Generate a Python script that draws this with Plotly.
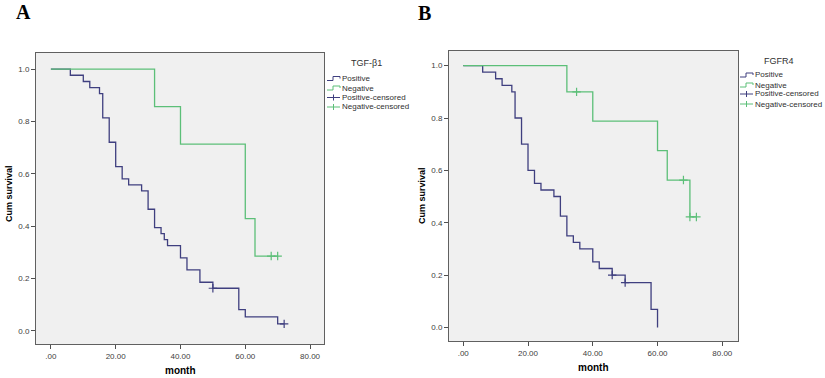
import plotly.graph_objects as go

W, H = 825, 378

# ---------------- data ----------------
# Panel A (TGF-β1)
a_pos_times = [6, 10, 12, 15, 16, 18, 20, 22, 24, 28, 30, 32, 34, 35, 36, 40, 42, 46, 50, 58, 60, 70]
a_pos_surv = [0.977, 0.953, 0.930, 0.907, 0.814, 0.721, 0.628, 0.581, 0.558, 0.535, 0.465,
              0.395, 0.372, 0.349, 0.326, 0.279, 0.233, 0.186, 0.163, 0.081, 0.054, 0.027]
a_pos_end = 72
a_pos_cens_t = [50, 72]
a_pos_cens_s = [0.163, 0.027]

a_neg_times = [32, 40, 60, 63]
a_neg_surv = [0.857, 0.714, 0.429, 0.286]
a_neg_end = 70
a_neg_cens_t = [68, 70]
a_neg_cens_s = [0.286, 0.286]

# Panel B (FGFR4)
b_pos_times = [6, 10, 12, 15, 16, 18, 20, 22, 24, 28, 30, 32, 34, 36, 40, 42, 46, 50, 58, 60]
b_pos_surv = [0.975, 0.950, 0.925, 0.900, 0.800, 0.700, 0.600, 0.550, 0.525, 0.500,
              0.425, 0.350, 0.325, 0.300, 0.250, 0.225, 0.200, 0.171, 0.069, 0.0]
b_pos_end = 60
b_pos_cens_t = [46, 50]
b_pos_cens_s = [0.200, 0.171]

b_neg_times = [32, 40, 60, 63, 70]
b_neg_surv = [0.900, 0.788, 0.675, 0.563, 0.422]
b_neg_end = 72
b_neg_cens_t = [35, 68, 70, 72]
b_neg_cens_s = [0.900, 0.563, 0.422, 0.422]

x_tickvals = [0, 20, 40, 60, 80]
x_ticktext = [".00", "20.00", "40.00", "60.00", "80.00"]
y_tickvals = [0, 0.2, 0.4, 0.6, 0.8, 1.0]
y_ticktext = ["0.0", "0.2", "0.4", "0.6", "0.8", "1.0"]

legend_labels = ["Positive", "Negative", "Positive-censored", "Negative-censored"]
panel_titles = ["TGF-β1", "FGFR4"]
panel_letters = ["A", "B"]

# ---------------- style ----------------
POS_C = "#3f3f7f"
NEG_C = "#5cbf78"
FONT = "Liberation Sans, Arial, sans-serif"


def px(x):
    return x / W


def py(y):
    return 1 - y / H


def step_xy(times, surv, end):
    xs = [0] + list(times)
    ys = [1.0] + list(surv)
    if end > xs[-1]:
        xs.append(end)
        ys.append(ys[-1])
    return xs, ys


fig = go.Figure()

panels = [
    dict(xa="x", ya="y", pos=(a_pos_times, a_pos_surv, a_pos_end, a_pos_cens_t, a_pos_cens_s),
         neg=(a_neg_times, a_neg_surv, a_neg_end, a_neg_cens_t, a_neg_cens_s)),
    dict(xa="x2", ya="y2", pos=(b_pos_times, b_pos_surv, b_pos_end, b_pos_cens_t, b_pos_cens_s),
         neg=(b_neg_times, b_neg_surv, b_neg_end, b_neg_cens_t, b_neg_cens_s)),
]

for p in panels:
    for key, col in (("pos", POS_C), ("neg", NEG_C)):
        t, s, e, ct, cs = p[key]
        xs, ys = step_xy(t, s, e)
        fig.add_trace(go.Scatter(x=xs, y=ys, mode="lines", line=dict(color=col, width=1.3, shape="hv"),
                                 xaxis=p["xa"], yaxis=p["ya"], showlegend=False, hoverinfo="skip"))
        fig.add_trace(go.Scatter(x=ct, y=cs, mode="markers",
                                 marker=dict(symbol="cross-thin", size=6, line=dict(color=col, width=1.2)),
                                 xaxis=p["xa"], yaxis=p["ya"], showlegend=False, hoverinfo="skip"))

# plot boxes in pixel coordinates
boxA = (36, 324, 53, 344)
boxB = (449, 738, 51, 341)

axis_common = dict(showgrid=False, zeroline=False, showline=True, linecolor="#606060", linewidth=1,
                   mirror=True, ticks="outside", ticklen=4, tickcolor="#505050", tickwidth=1,
                   tickfont=dict(family=FONT, size=8, color="#404040"))

fig.update_layout(
    width=W, height=H, margin=dict(l=0, r=0, t=0, b=0),
    paper_bgcolor="white", plot_bgcolor="#f0f0f0", showlegend=False,
    xaxis=dict(domain=[px(boxA[0]), px(boxA[1])], range=[-4.6, 84.3], anchor="y",
               tickvals=x_tickvals, ticktext=x_ticktext, **axis_common),
    yaxis=dict(domain=[py(boxA[3]), py(boxA[2])], range=[-0.050, 1.062], anchor="x",
               tickvals=y_tickvals, ticktext=y_ticktext, **axis_common),
    xaxis2=dict(domain=[px(boxB[0]), px(boxB[1])], range=[-4.4, 84.85], anchor="y2",
                tickvals=x_tickvals, ticktext=x_ticktext, **axis_common),
    yaxis2=dict(domain=[py(boxB[3]), py(boxB[2])], range=[-0.052, 1.056], anchor="x2",
                tickvals=y_tickvals, ticktext=y_ticktext, **axis_common),
)

annotations = []
shapes = []


def ann(x, y, text, size, family=FONT, color="black", xanchor="center", angle=0):
    annotations.append(dict(x=px(x), y=py(y), xref="paper", yref="paper", text=text, showarrow=False,
                            xanchor=xanchor, yanchor="middle", textangle=angle,
                            font=dict(family=family, size=size, color=color)))


# panel letters
for letter, (lx, ly) in zip(panel_letters, [(23, 12), (424, 13)]):
    ann(lx, ly, "<b>%s</b>" % letter, 20, family="Liberation Serif, Times New Roman, serif")

# axis titles
for (mx, my), (cx, cy) in zip([(180, 370), (593, 367)], [(9, 194), (422, 195)]):
    ann(mx, my, "<b>month</b>", 10)
    ann(cx, cy, "<b>Cum survival</b>", 9, angle=-90)

# legends
legend_specs = [
    dict(title=panel_titles[0], tx=366, ty=63, gx0=327, gx1=340, textx=340, rows=[78.5, 88, 97.5, 107]),
    dict(title=panel_titles[1], tx=779, ty=61, gx0=740, gx1=753, textx=753, rows=[75, 85, 94, 104]),
]
for spec in legend_specs:
    ann(spec["tx"], spec["ty"], spec["title"], 9, color="#303030")
    for i, (lab, ry) in enumerate(zip(legend_labels, spec["rows"])):
        col = POS_C if i % 2 == 0 else NEG_C
        ann(spec["textx"], ry, lab, 8, color="#303030", xanchor="left")
        x0, x1 = spec["gx0"], spec["gx1"]
        if i < 2:
            xm = x0 + 6
            path = "M {a},{b} L {c},{b} L {c},{d} L {e},{d} L {e},{f}".format(
                a=px(x0), b=py(ry + 2), c=px(xm), d=py(ry - 2), e=px(x1), f=py(ry))
            shapes.append(dict(type="path", path=path, xref="paper", yref="paper",
                               line=dict(color=col, width=1)))
        else:
            shapes.append(dict(type="line", x0=px(x0), x1=px(x1), y0=py(ry), y1=py(ry),
                               xref="paper", yref="paper", line=dict(color=col, width=1)))
            xm = (x0 + x1) / 2
            shapes.append(dict(type="line", x0=px(xm), x1=px(xm), y0=py(ry - 3), y1=py(ry + 3),
                               xref="paper", yref="paper", line=dict(color=col, width=1)))

fig.update_layout(annotations=annotations, shapes=shapes)

fig.write_html("out.html", config={"displayModeBar": False},
               post_script="document.body.style.margin='0';document.body.style.overflow='hidden';")
